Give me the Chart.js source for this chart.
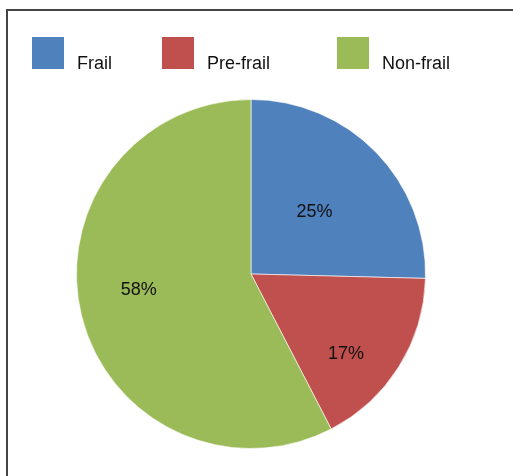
<!DOCTYPE html>
<html>
<head>
<meta charset="utf-8">
<script src="https://cdn.jsdelivr.net/npm/chart.js@4/dist/chart.umd.min.js"></script>
<style>
html,body{margin:0;padding:0;background:#fff;}
#wrap{width:513px;height:476px;position:relative;}
</style>
</head>
<body>
<div id="wrap"><canvas id="c" width="513" height="476"></canvas></div>
<script>
const categories = ["Frail", "Pre-frail", "Non-frail"];
const values = [25.4, 17.0, 57.6];
const valueLabels = ["25%", "17%", "58%"];
const colors = ["#4F81BD", "#C0504D", "#9BBB59"];

const FONT = '"Liberation Sans", Arial, sans-serif';

const framePlugin = {
  id: 'frame',
  beforeDraw(chart) {
    const ctx = chart.ctx;
    ctx.save();
    ctx.fillStyle = '#fff';
    ctx.fillRect(0, 0, chart.width, chart.height);
    ctx.strokeStyle = '#444';
    ctx.lineWidth = 2;
    ctx.beginPath();
    ctx.moveTo(7, chart.height + 5);
    ctx.lineTo(7, 10);
    ctx.lineTo(chart.width + 5, 10);
    ctx.stroke();
    ctx.restore();
  }
};

const legendPlugin = {
  id: 'customLegend',
  afterDraw(chart) {
    const ctx = chart.ctx;
    const boxX = [32, 162, 337];
    ctx.save();
    ctx.font = '18px ' + FONT;
    ctx.textBaseline = 'alphabetic';
    categories.forEach((c, i) => {
      ctx.fillStyle = colors[i];
      ctx.fillRect(boxX[i], 37, 32, 32);
      ctx.fillStyle = '#111';
      ctx.fillText(c, boxX[i] + 45, 69);
    });
    ctx.restore();
  }
};

// label placement: angle (deg from top, clockwise) and fraction of radius
const labelPlace = [[45.5, 0.51], [130, 0.71], [262, 0.65]];
const valueLabelPlugin = {
  id: 'valueLabels',
  afterDatasetsDraw(chart) {
    const ctx = chart.ctx;
    const meta = chart.getDatasetMeta(0);
    ctx.save();
    ctx.font = '18px ' + FONT;
    ctx.textAlign = 'center';
    ctx.textBaseline = 'middle';
    ctx.fillStyle = '#111';
    meta.data.forEach((arc, i) => {
      const p = arc.getProps(['x', 'y', 'outerRadius'], true);
      const a = labelPlace[i][0] * Math.PI / 180;
      const r = p.outerRadius * labelPlace[i][1];
      ctx.fillText(valueLabels[i], p.x + Math.sin(a) * r, p.y - Math.cos(a) * r);
    });
    ctx.restore();
  }
};

new Chart(document.getElementById('c'), {
  type: 'pie',
  data: {
    labels: categories,
    datasets: [{
      data: values,
      backgroundColor: colors,
      borderColor: 'rgba(255,255,255,0.6)',
      borderWidth: 1
    }]
  },
  options: {
    responsive: false,
    animation: false,
    layout: { padding: { left: 76, top: 99, right: 87, bottom: 27 } },
    plugins: {
      legend: { display: false },
      tooltip: { enabled: false }
    }
  },
  plugins: [framePlugin, legendPlugin, valueLabelPlugin]
});
</script>
</body>
</html>
